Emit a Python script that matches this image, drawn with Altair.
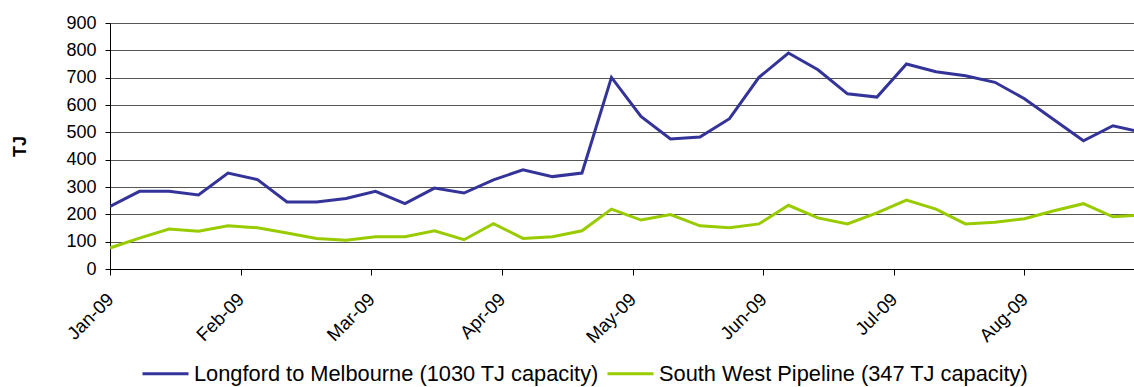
import altair as alt
import pandas as pd

# weekly observations (index 0 = first week of Jan-09)
week_index = list(range(36))
longford = [229, 284, 284, 271, 351, 327, 245, 245, 258, 284,
            239, 296, 278, 326, 363, 338, 351, 701, 558, 476,
            483, 550, 701, 790, 729, 641, 629, 750, 722, 707,
            683, 623, 546, 469, 524, 500]
southwest = [77, 113, 146, 138, 158, 151, 132, 112, 105, 118,
             118, 140, 107, 166, 112, 118, 140, 219, 179, 199,
             158, 151, 165, 233, 187, 165, 205, 252, 219, 165,
             171, 184, 213, 239, 191, 197]
series_names = ["Longford to Melbourne (1030 TJ capacity)",
                "South West Pipeline (347 TJ capacity)"]
month_labels = ["Jan-09", "Feb-09", "Mar-09", "Apr-09",
                "May-09", "Jun-09", "Jul-09", "Aug-09"]
y_ticks = [0, 100, 200, 300, 400, 500, 600, 700, 800, 900]

rows = []
for i, w in enumerate(week_index):
    rows.append({"day": w * 7, "TJ": longford[i], "series": series_names[0]})
    rows.append({"day": w * 7, "TJ": southwest[i], "series": series_names[1]})
df = pd.DataFrame(rows)

month_ticks = [31 * k for k in range(len(month_labels))]
label_arr = "[" + ",".join("'" + m + "'" for m in month_labels) + "]"

chart = alt.Chart(df).mark_line(strokeWidth=3, clip=True).encode(
    x=alt.X("day:Q",
            scale=alt.Scale(domain=[0, 243], nice=False, zero=False),
            axis=alt.Axis(values=month_ticks, labelExpr=label_arr + "[round(datum.value/31)]",
                          title=None, grid=False, labelAngle=-45, labelAlign="right",
                          labelBaseline="middle", labelPadding=21, tickSize=6,
                          labelFontSize=18.5, labelFont="Liberation Sans", labelColor="black",
                          domainColor="black", tickColor="black", labelOverlap=False)),
    y=alt.Y("TJ:Q",
            scale=alt.Scale(domain=[0, 900], nice=False),
            axis=alt.Axis(values=y_ticks, title="TJ", titleFontSize=18, titleFont="Liberation Sans",
                          titleFontWeight="bold", titleColor="black", titlePadding=36,
                          labelFontSize=18, labelFont="Liberation Sans", labelColor="black",
                          labelPadding=9, tickSize=5, gridColor="#555555", gridWidth=1,
                          gridOpacity=1, domainColor="black", tickColor="black")),
    color=alt.Color("series:N",
                    scale=alt.Scale(domain=series_names, range=["#333399", "#99CC00"]),
                    legend=alt.Legend(title=None, orient="none", legendX=31, legendY=326,
                                      direction="horizontal", symbolType="stroke",
                                      symbolSize=2116, symbolStrokeWidth=3,
                                      labelFontSize=21.8, labelFont="Liberation Sans",
                                      labelColor="black", columnPadding=2, labelOffset=4,
                                      labelLimit=600)),
).properties(
    width=1024, height=246,
    padding={"left": 110, "top": 23, "right": 0, "bottom": 118},
    autosize=alt.AutoSizeParams(type="none"),
).configure_view(stroke=None)

chart.save("out.html", embed_options={"renderer": "svg", "actions": False})
